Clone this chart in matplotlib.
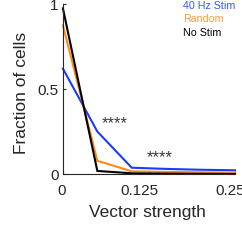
import matplotlib
matplotlib.use("Agg")
import matplotlib.pyplot as plt
from matplotlib.transforms import ScaledTranslation

plt.rcParams['font.family'] = ['Liberation Sans', 'DejaVu Sans']

# DATA
vs_bins = [0, 0.05, 0.10, 0.15, 0.20, 0.25]
stim40 = [0.62, 0.25, 0.037, 0.03, 0.025, 0.022]
random_stim = [0.875, 0.078, 0.016, 0.012, 0.01, 0.008]
no_stim = [0.975, 0.018, 0.004, 0.002, 0.001, 0.0]

series_names = ['40 Hz Stim', 'Random', 'No Stim']
line_colors = ['#1a3cff', '#ff8a1a', '#000000']
text_colors = ['#3358ff', '#ff9a3a', '#000000']

xtick_vals = [0, 0.125, 0.25]
xtick_labels = ['0', '0.125', '0.25']
ytick_vals = [0, 0.5, 1]
ytick_labels = ['0', '0.5', '1']

fig = plt.figure(figsize=(2.42, 2.41), dpi=100)
ax = fig.add_axes([0.26, 0.278, 0.711, 0.705])

for ys, c in zip([stim40, random_stim, no_stim], line_colors):
    ax.plot(vs_bins, ys, color=c, lw=1.5, clip_on=False, solid_joinstyle='miter')

ax.set_xlim(0, 0.25)
ax.set_ylim(0, 1)
ax.set_xticks(xtick_vals)
ax.set_xticklabels(xtick_labels)
ax.set_yticks(ytick_vals)
ax.set_yticklabels(ytick_labels)
ax.tick_params(direction='in', length=2.5, width=0.8, labelsize=11,
               colors='#262626')
ax.tick_params(axis='x', pad=7)
ax.tick_params(axis='y', pad=3)
for s in ['top', 'right']:
    ax.spines[s].set_visible(False)
for s in ['left', 'bottom']:
    ax.spines[s].set_linewidth(0.8)
    ax.spines[s].set_color('#262626')

# x tick labels sit a bit left of their ticks in the original
for lab, dx in zip(ax.get_xticklabels(), [-1.3, -10, -5]):
    lab.set_transform(lab.get_transform() + ScaledTranslation(dx / 100, 0, fig.dpi_scale_trans))

ax.set_xlabel('Vector strength', fontsize=12.5, color='#262626')
ax.set_ylabel('Fraction of cells', fontsize=12.5, color='#262626')
ax.xaxis.set_label_coords(0.491, -0.185)
ax.yaxis.set_label_coords(-0.195, 0.48)

ax.text(0.0756, 0.27, '****', fontsize=12, color='#3a3a3a', ha='center', va='baseline')
ax.text(0.1405, 0.072, '****', fontsize=12, color='#3a3a3a', ha='center', va='baseline')

for i, (name, c) in enumerate(zip(series_names, text_colors)):
    fig.text(183 / 242, 1 - (6 + 13.5 * i) / 241, name, fontsize=7.7, color=c,
             ha='left', va='center')

fig.savefig('out.png', dpi=100)
